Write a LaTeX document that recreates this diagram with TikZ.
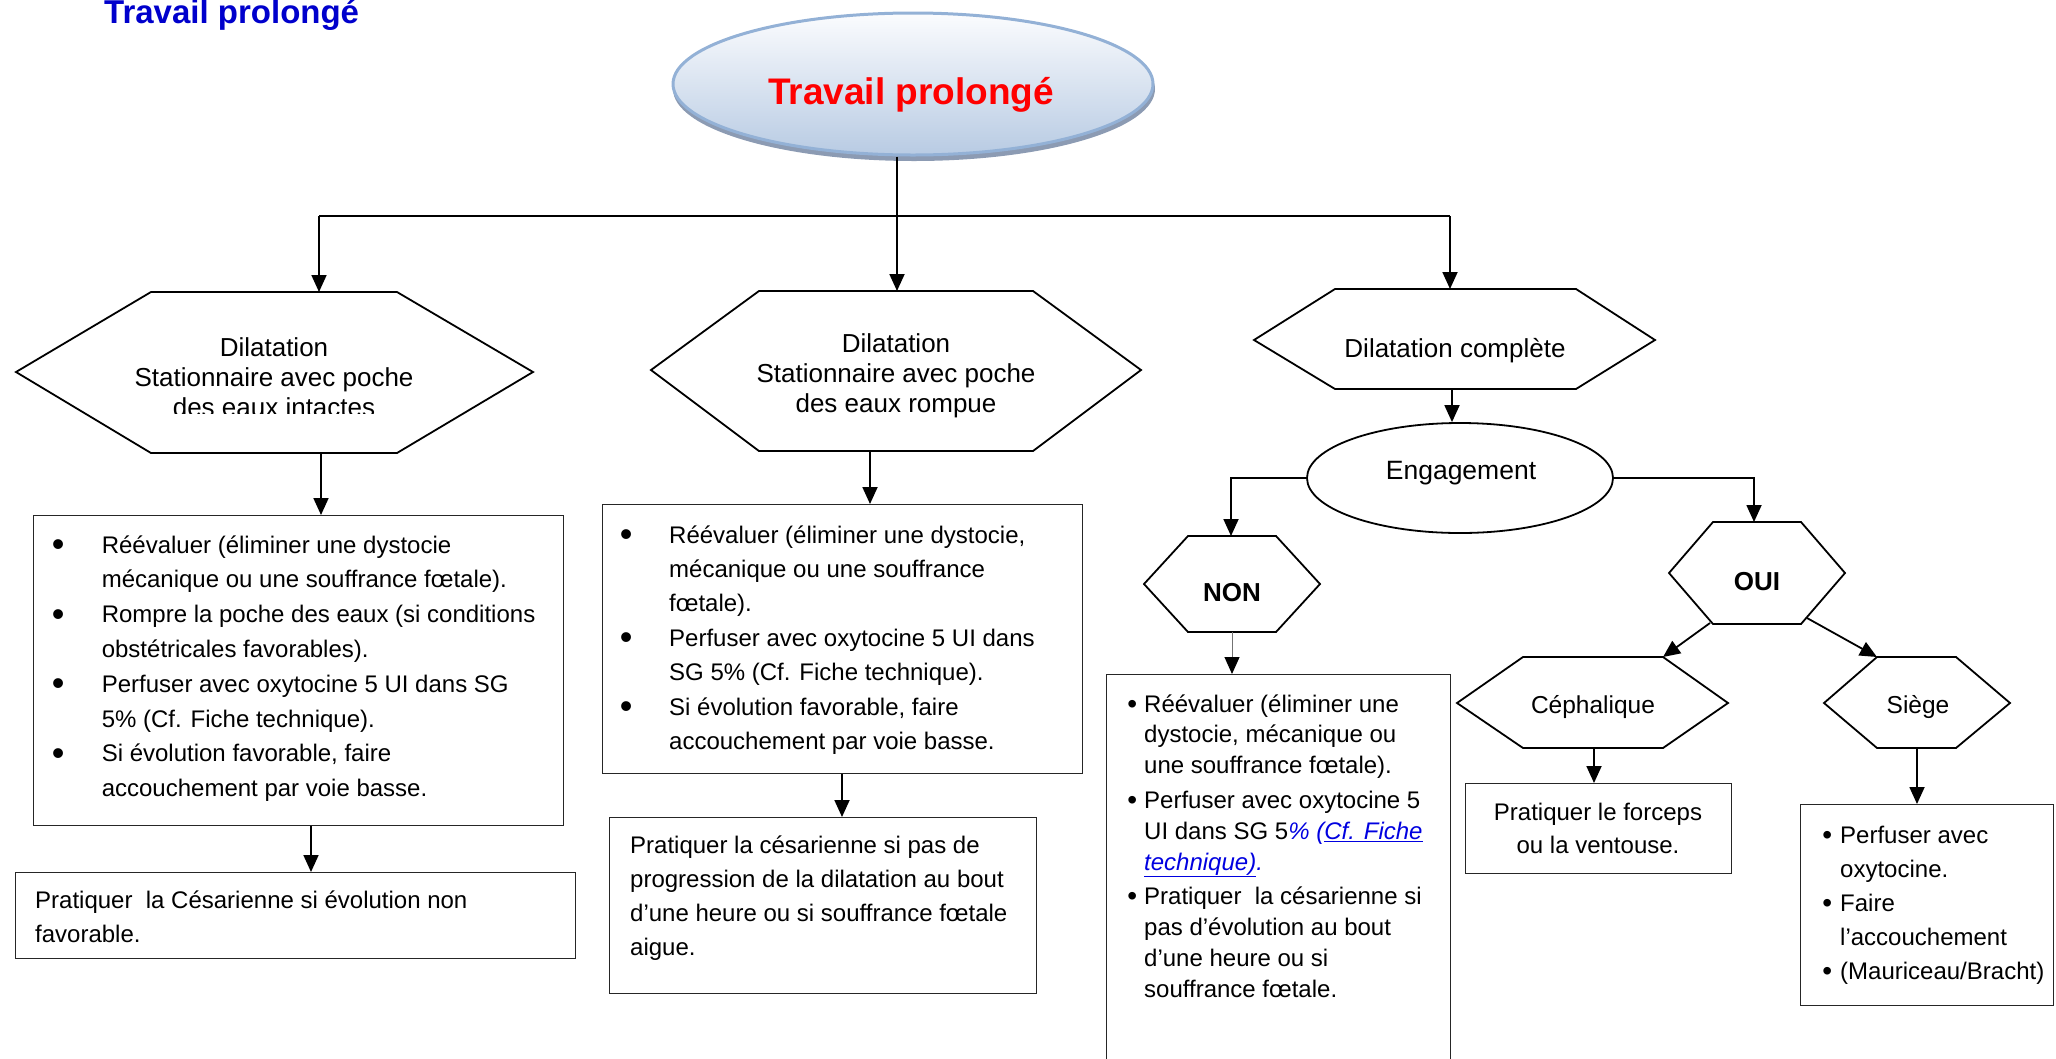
\documentclass[tikz,border=0pt]{standalone}
\usepackage{fontspec}
\setmainfont{Liberation Sans}
\usetikzlibrary{arrows.meta,shapes.geometric}
\definecolor{titleblue}{HTML}{0000CC}
\definecolor{ellborder}{HTML}{93B1D6}
\definecolor{elltop}{HTML}{FBFCFE}
\definecolor{ellbot}{HTML}{B8CBE3}
\definecolor{ellshadow}{HTML}{8C9BB3}
\definecolor{linkblue}{HTML}{0000E0}
\newcommand\bulw[1]{\makebox[#1][l]{\makebox[0pt]{\raisebox{-3.5pt}{\fontsize{36}{36}\selectfont\textbullet}}}}
\newcommand\bulsm[1]{\makebox[#1][l]{\makebox[0pt]{\raisebox{-1pt}{\fontsize{28}{28}\selectfont\textbullet}}}}
\begin{document}
\begin{tikzpicture}[x=1pt,y=-1pt,
  hexline/.style={draw=black, line width=1.8pt, line join=miter},
  boxline/.style={draw=black!85, line width=1.4pt, inner sep=0pt, anchor=north west},
  conn/.style={line width=1.8pt, -{Triangle[length=17pt,width=15pt]}},
  plainline/.style={line width=1.8pt},
  hextext/.style={inner sep=0pt, anchor=base, font=\fontsize{26}{30}\selectfont},
  boxtext/.style={inner sep=0pt, anchor=base west, font=\fontsize{24}{34.8}\selectfont},
]
\useasboundingbox (0,0) rectangle (2056,1058);

% page title
\node[anchor=base west, inner sep=0pt, font=\bfseries\fontsize{33}{33}\selectfont, text=titleblue] (ttl) at (104,23) {Travail prolongé};

% top ellipse
\node[ellipse, fill=ellshadow, minimum width=482pt, minimum height=144pt] (topsh) at (914,89) {};
\node[ellipse, draw=ellborder, line width=3pt, top color=elltop, bottom color=ellbot, minimum width=480pt, minimum height=142pt] (top) at (913,84) {};
\node[anchor=base, inner sep=0pt, font=\bfseries\fontsize{37}{37}\selectfont, text=red] (toptext) at (911,104) {Travail prolongé};

% junction line
\coordinate (jl) at (319,216);
\coordinate (jr) at (1450,216);
\draw[plainline] (jl) -- (jr);

% hexagon 1
\draw[hexline] (16,372) -- (151,292) -- (397,292) -- (533,372) -- (397,453) -- (151,453) -- cycle;
\coordinate (h1n) at (319,292);
\coordinate (h1s) at (321,453);
\begin{scope}
\clip (0,0) rectangle (2056,413.3);
\node[hextext] (h1t) at (274,356) {\begin{tabular}[t]{@{}c@{}}Dilatation\\Stationnaire avec poche\\des eaux intactes\end{tabular}};
\end{scope}

% hexagon 2
\draw[hexline] (651,370) -- (759,291) -- (1033,291) -- (1141,370) -- (1033,451) -- (759,451) -- cycle;
\coordinate (h2n) at (897,291);
\coordinate (h2s) at (870,451);
\node[hextext] (h2t) at (896,352) {\begin{tabular}[t]{@{}c@{}}Dilatation\\Stationnaire avec poche\\des eaux rompue\end{tabular}};

% hexagon 3
\draw[hexline] (1254,340) -- (1335,289) -- (1576,289) -- (1655,340) -- (1576,389) -- (1335,389) -- cycle;
\coordinate (h3n) at (1450,289);
\coordinate (h3s) at (1452,389);
\node[hextext] (h3t) at (1455,357) {Dilatation complète};

% engagement ellipse
\node[ellipse, draw, line width=1.8pt, minimum width=306pt, minimum height=110pt] (eng) at (1460,478) {};
\node[hextext, font=\fontsize{26.5}{30}\selectfont] (engt) at (1461,479) {Engagement};

% NON hexagon
\draw[hexline] (1144,584) -- (1188,536) -- (1276,536) -- (1320,584) -- (1276,632) -- (1188,632) -- cycle;
\coordinate (nonn) at (1231,536);
\coordinate (nons) at (1232,632);
\node[hextext, font=\bfseries\fontsize{26}{30}\selectfont] (nont) at (1232,601) {NON};

% OUI hexagon
\draw[hexline] (1669,573) -- (1713,522) -- (1801,522) -- (1845,573) -- (1801,624) -- (1713,624) -- cycle;
\coordinate (ouin) at (1754,522);
\coordinate (ouisw) at (1710,623);
\coordinate (ouise) at (1807,618);
\node[hextext, font=\bfseries\fontsize{26}{30}\selectfont] (ouit) at (1757,590) {OUI};

% Cephalique hexagon
\draw[hexline] (1457,703) -- (1523,657) -- (1663,657) -- (1728,703) -- (1663,748) -- (1523,748) -- cycle;
\coordinate (cephn) at (1663,657);
\coordinate (cephs) at (1594,748);
\node[hextext, font=\fontsize{24.5}{30}\selectfont] (cepht) at (1593,713) {Céphalique};

% Siege hexagon
\draw[hexline] (1824,703) -- (1877,657) -- (1956,657) -- (2010,703) -- (1956,748) -- (1877,748) -- cycle;
\coordinate (siegen) at (1877,657);
\coordinate (sieges) at (1917,748);
\node[hextext, font=\fontsize{24.5}{30}\selectfont] (sieget) at (1918,713) {Siège};

% boxes
\node[boxline, minimum width=530pt, minimum height=310pt] (b1) at (33,515) {};
\node[boxline, minimum width=560pt, minimum height=86pt] (b1b) at (15,872) {};
\node[boxline, minimum width=480pt, minimum height=269pt] (b2) at (602,504) {};
\node[boxline, minimum width=427pt, minimum height=176pt] (b2b) at (609,817) {};
\node[boxline, minimum width=344pt, minimum height=400pt] (nonb) at (1106,674) {};
\node[boxline, minimum width=266pt, minimum height=90pt] (cephb) at (1465,783) {};
\node[boxline, minimum width=253pt, minimum height=201pt] (siegeb) at (1800,804) {};

% box texts
\node[boxtext] (b1t) at (58,553) {\begin{tabular}[t]{@{}l@{}l@{}}
\bulw{43.6pt} & Réévaluer (éliminer une dystocie\\
 & mécanique ou une souffrance fœtale).\\
\bulw{43.6pt} & Rompre la poche des eaux (si conditions\\
 & obstétricales favorables).\\
\bulw{43.6pt} & Perfuser avec oxytocine 5 UI dans SG\\
 & 5\% (Cf. Fiche technique).\\
\bulw{43.6pt} & Si évolution favorable, faire\\
 & accouchement par voie basse.
\end{tabular}};

\node[boxtext, font=\fontsize{24}{34}\selectfont] (b1bt) at (35,908) {\begin{tabular}[t]{@{}l@{}}
Pratiquer\ \ la Césarienne si évolution non\\
favorable.
\end{tabular}};

\node[boxtext, font=\fontsize{24}{34.4}\selectfont] (b2t) at (626,543) {\begin{tabular}[t]{@{}l@{}l@{}}
\bulw{43pt} & Réévaluer (éliminer une dystocie,\\
 & mécanique ou une souffrance\\
 & fœtale).\\
\bulw{43pt} & Perfuser avec oxytocine 5 UI dans\\
 & SG 5\% (Cf. Fiche technique).\\
\bulw{43pt} & Si évolution favorable, faire\\
 & accouchement par voie basse.
\end{tabular}};

\node[boxtext, font=\fontsize{24}{34}\selectfont] (b2bt) at (630,853) {\begin{tabular}[t]{@{}l@{}}
Pratiquer la césarienne si pas de\\
progression de la dilatation au bout\\
d’une heure ou si souffrance fœtale\\
aigue.
\end{tabular}};

\node[boxtext, font=\fontsize{24}{30.8}\selectfont] (nonbt) at (1132,712) {\begin{tabular}[t]{@{}l@{}l@{}}
\bulsm{12pt} & Réévaluer (éliminer une\\
 & dystocie, mécanique ou\\
 & une souffrance fœtale).\\[4pt]
\bulsm{12pt} & Perfuser avec oxytocine 5\\
 & UI dans SG 5{\color{linkblue}\itshape\% (\underline{Cf. Fiche}}\\
 & {\color{linkblue}\itshape\underline{technique)}.}\\[4pt]
\bulsm{12pt} & Pratiquer\ \ la césarienne si\\
 & pas d’évolution au bout\\
 & d’une heure ou si\\
 & souffrance fœtale.
\end{tabular}};

\node[inner sep=0pt, anchor=base, font=\fontsize{24}{33}\selectfont] (cephbt) at (1598,820) {\begin{tabular}[t]{@{}c@{}}
Pratiquer le forceps\\
ou la ventouse.
\end{tabular}};

\node[boxtext, font=\fontsize{24}{34}\selectfont] (siegebt) at (1827,843) {\begin{tabular}[t]{@{}l@{}l@{}}
\bulsm{13pt} & Perfuser avec\\
 & oxytocine.\\
\bulsm{13pt} & Faire\\
 & l’accouchement\\
\bulsm{13pt} & (Mauriceau/Bracht)
\end{tabular}};

% connectors
\draw[conn] (top.south -| h2n) -- (h2n);
\draw[conn] (jl) -- (h1n);
\draw[conn] (jr) -- (h3n);
\draw[conn] (h1s) -- (b1.north -| h1s);
\draw[conn] (b1.south -| 311,0) -- (b1b.north -| 311,0);
\draw[conn] (h2s) -- (b2.north -| h2s);
\draw[conn] (b2.south -| 842,0) -- (b2b.north -| 842,0);
\draw[conn] (h3s) -- (eng.north -| h3s);
\draw[conn] (eng.west) -| (nonn);
\draw[conn] (eng.east) -| (ouin);
\draw[line width=1pt, draw=black!55, -{Triangle[length=17pt,width=15pt,color=black]}] (nons) -- (nonb.north -| nons);
\draw[conn] (ouisw) -- (cephn);
\draw[conn] (ouise) -- (siegen);
\draw[conn] (cephs) -- (cephb.north -| cephs);
\draw[conn] (sieges) -- (siegeb.north -| sieges);
\end{tikzpicture}
\end{document}
